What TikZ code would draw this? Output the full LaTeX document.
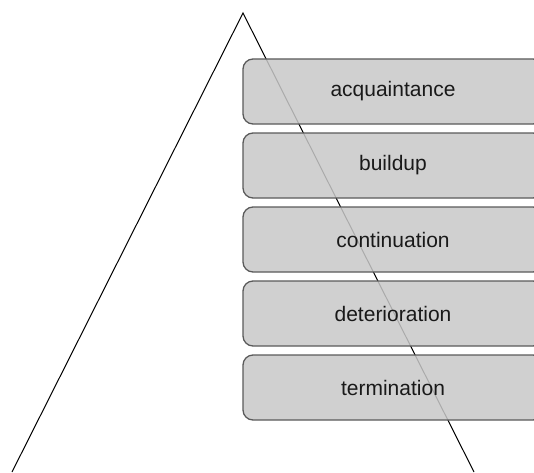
\documentclass[tikz,border=0pt]{standalone}
\usepackage{fontspec}
\setmainfont{Liberation Sans}
\usepackage{xcolor}
\usepackage{tikz}
\usetikzlibrary{positioning}
\definecolor{boxfill}{RGB}{200,200,200}
\definecolor{boxline}{RGB}{90,90,90}

\begin{document}
\begin{tikzpicture}
  [ x=1pt, y=1pt,
    stage/.style={draw=boxline, line width=1.3pt, fill=boxfill,
      fill opacity=0.85, text opacity=1, rounded corners=10pt,
      minimum width=300pt, minimum height=65pt, inner sep=0pt,
      outer sep=0pt, font=\fontsize{21}{25}\selectfont, text=black!90},
    side/.style={draw=black, line width=1pt}
  ]
  \useasboundingbox (0,0) rectangle (534,472);

  % open triangle, drawn first so it shows through the stages
  \coordinate (apex)  at (243,459);
  \coordinate (left)  at (12,0);
  \coordinate (right) at (474,0);
  \draw [side] (left) -- (apex) -- (right);

  \node (s1) at (393,380.5) [stage] {acquaintance};
  \node (s2) [stage, below=9pt of s1] {buildup};
  \node (s3) [stage, below=9pt of s2] {continuation};
  \node (s4) [stage, below=9pt of s3] {deterioration};
  \node (s5) [stage, below=9pt of s4] {termination};
\end{tikzpicture}
\end{document}
